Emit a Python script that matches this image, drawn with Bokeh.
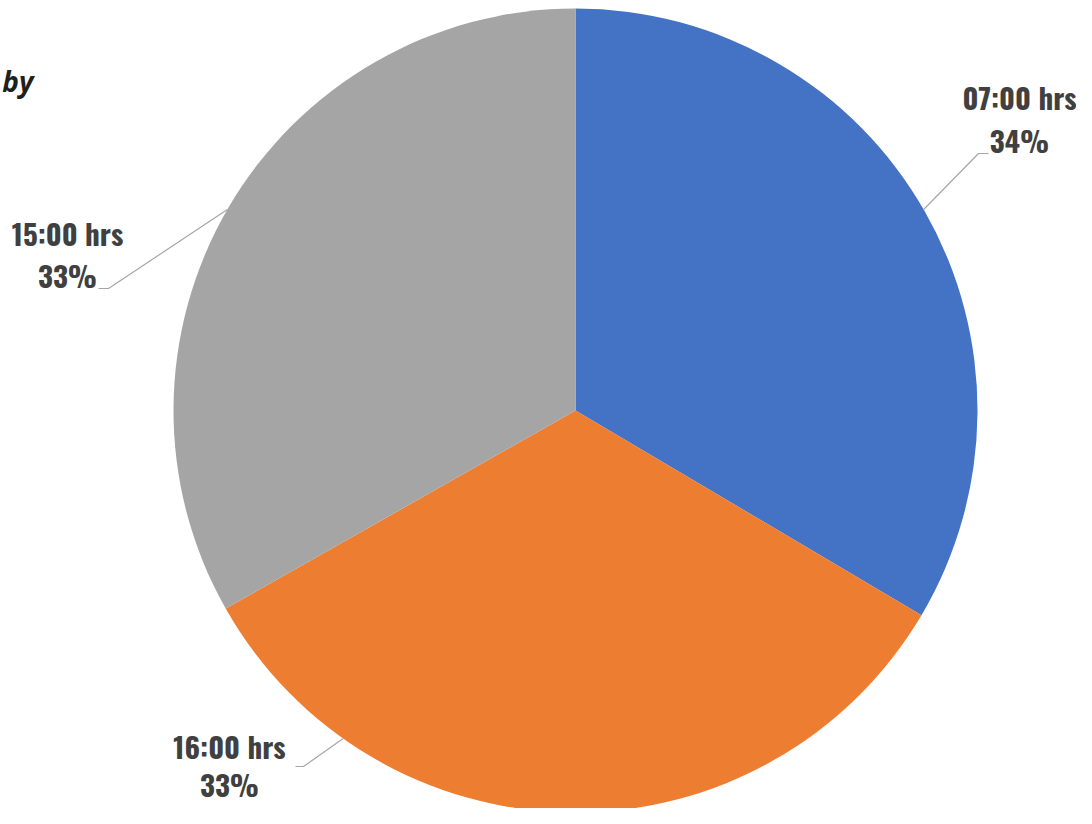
import math
from bokeh.plotting import figure
from bokeh.models import Range1d, ColumnDataSource
from bokeh.core.properties import value
from bokeh.embed import file_html
from bokeh.resources import INLINE

# ---- data ----
categories = ["07:00 hrs", "16:00 hrs", "15:00 hrs"]
shares = [33.5, 33.3, 33.2]
colors = ["#4472C4", "#ED7D31", "#A5A5A5"]

# ---- layout (image-pixel coordinates; y measured downward, converted below) ----
W, H = 1076, 808
CX, CY_IMG, R = 575, 410, 402
label_xy = [(1019, 96, 139), (229, 745, 783), (67, 232, 274)]
leader_angle = [30.0, 234.7, 150.0]
leader_elbow = [((978, 153), (988, 153)), ((303, 766), (295, 766)), ((108, 288), (98, 288))]

def fy(y_img):
    return H - y_img

p = figure(width=W, height=H, output_backend="svg", toolbar_location=None,
           x_range=Range1d(0, W), y_range=Range1d(0, H),
           min_border=0, outline_line_color=None)
p.axis.visible = False
p.grid.visible = False
p.background_fill_color = "white"
p.border_fill_color = "white"

total = sum(shares)
starts, ends = [], []
a = 90.0
for s in shares:
    sweep = 360.0 * s / total
    starts.append(math.radians(a))
    a -= sweep
    ends.append(math.radians(a))

src = ColumnDataSource(dict(start=starts, end=ends, color=colors))
p.wedge(x=CX, y=fy(CY_IMG), radius=R, start_angle="start", end_angle="end",
        direction="clock", fill_color="color", line_color=None, source=src)

# leader lines
for ang, (e1, e2) in zip(leader_angle, leader_elbow):
    x0 = CX + R * math.cos(math.radians(ang))
    y0 = fy(CY_IMG) + R * math.sin(math.radians(ang))
    p.line([x0, e1[0], e2[0]], [y0, fy(e1[1]), fy(e2[1])],
           line_color="#A6A6A6", line_width=1.2)

font = value("Oswald")
for cat, s, (lx, ly1, ly2) in zip(categories, shares, label_xy):
    p.text(x=[lx], y=[fy(ly1)], text=[cat], text_font=font, text_font_size="29px",
           text_font_style="bold", text_color="#404040",
           text_align="center", text_baseline="middle")
    p.text(x=[lx], y=[fy(ly2)], text=[f"{s:.0f}%"], text_font=font, text_font_size="29px",
           text_font_style="bold", text_color="#404040",
           text_align="center", text_baseline="middle")

# partially visible title fragment at the left edge
p.text(x=[33], y=[fy(80)], text=["by"], text_font=value("Open Sans"),
       text_font_size="28px", text_font_style="bold italic", text_color="#1F1F1F",
       text_align="right", text_baseline="middle")

open("out.html", "w").write(file_html(p, INLINE))
